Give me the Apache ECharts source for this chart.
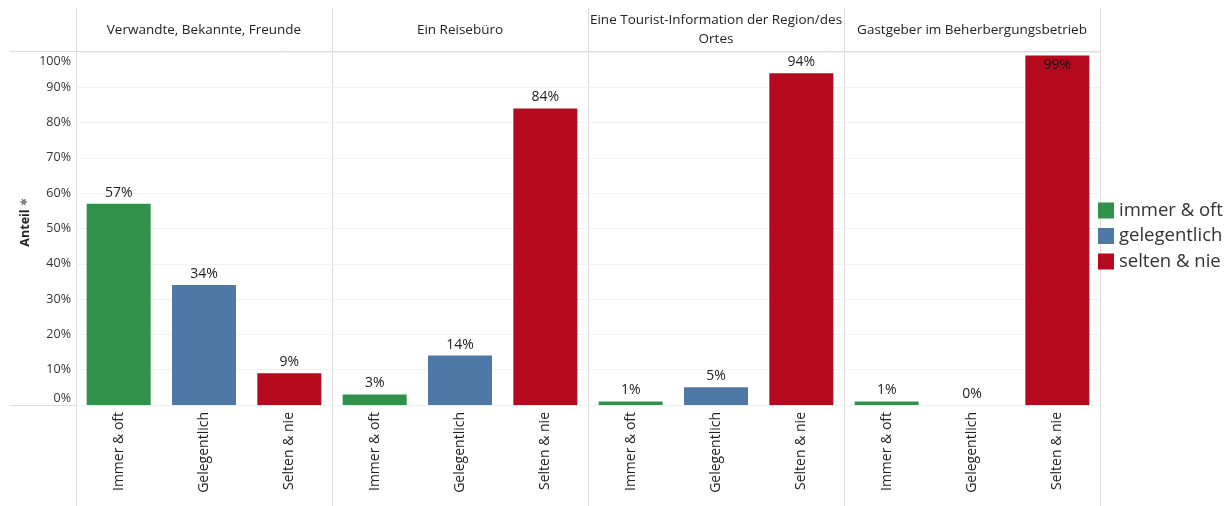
<!DOCTYPE html>
<html><head><meta charset="utf-8">
<script src="https://cdn.jsdelivr.net/npm/echarts@6/dist/echarts.min.js"></script>
<style>html,body{margin:0;padding:0;background:#fff}#c{width:1225px;height:506px}</style>
</head><body><div id="c"></div>
<script>
const panels = ['Verwandte, Bekannte, Freunde', 'Ein Reisebüro', 'Eine Tourist-Information der Region/des\nOrtes', 'Gastgeber im Beherbergungsbetrieb'];
const categories = ['Immer & oft', 'Gelegentlich', 'Selten & nie'];
const seriesNames = ['immer & oft', 'gelegentlich', 'selten & nie'];
const valuesVerwandte = [57, 34, 9];
const valuesReisebuero = [3, 14, 84];
const valuesTouristInfo = [1, 5, 94];
const valuesGastgeber = [1, 0, 99];
const yTicks = [0, 10, 20, 30, 40, 50, 60, 70, 80, 90, 100];
const colors = ['#30914a', '#4e79a7', '#b50a1e'];
const panelValues = [valuesVerwandte, valuesReisebuero, valuesTouristInfo, valuesGastgeber];

const FONT = 'Open Sans';
const X0 = 76, PW = 256, TOP = 52, H = 353;
const grids = [], xAxes = [], yAxes = [], series = [], titles = [];
panelValues.forEach((vals, p) => {
  grids.push({left: X0 + p*PW, width: PW, top: TOP, height: H});
  xAxes.push({type: 'category', gridIndex: p, data: categories,
    axisLine: {show: false}, axisTick: {show: false},
    axisLabel: {rotate: 90, fontFamily: FONT, fontSize: 14, color: '#222', margin: 7}});
  yAxes.push({type: 'value', gridIndex: p, min: yTicks[0], max: yTicks[yTicks.length-1], interval: 10,
    axisLine: {show: false}, axisTick: {show: false},
    splitLine: {lineStyle: {color: '#f2f2f2', width: 1}},
    axisLabel: p === 0 ? {show: true, fontFamily: FONT, fontSize: 12.5, color: '#333', margin: 5,
      formatter: v => v === 0 ? '{b|0%}' : (v === 100 ? '{t|100%}' : v + '%'),
      rich: {b: {fontFamily: FONT, fontSize: 12.5, color: '#333', padding: [0,0,14,0]},
             t: {fontFamily: FONT, fontSize: 12.5, color: '#333', padding: [18,0,0,0]}}} : {show: false}});
  seriesNames.forEach((nm, k) => {
    series.push({type: 'bar', name: nm, xAxisIndex: p, yAxisIndex: p,
      barGap: '-100%', barCategoryGap: '25%',
      itemStyle: {color: colors[k]},
      label: {show: true, position: 'top', distance: 4, fontFamily: FONT, fontSize: 14, color: '#222', formatter: '{c}%'},
      data: categories.map((c, j) => j === k ? (vals[j] > 97 ? {value: vals[j], label: {position: 'insideTop', distance: 2, color: '#111'}} : vals[j]) : '-')
    });
  });
  const twoLine = panels[p].indexOf('\n') >= 0;
  titles.push({text: panels[p], left: X0 + p*PW + PW/2, top: twoLine ? 11 : 21, padding: 0, textAlign: 'center',
    textStyle: {fontFamily: FONT, fontSize: 13.5, fontWeight: 'normal', color: '#222', lineHeight: 19}});
});

const graphics = [];
for (let i = 0; i <= 4; i++) {
  graphics.push({type: 'line', shape: {x1: X0 + i*PW + 0.5, y1: 8, x2: X0 + i*PW + 0.5, y2: 506}, style: {stroke: '#dcdcdc', lineWidth: 1}, z: 0});
}
graphics.push({type: 'line', shape: {x1: 10, y1: TOP - 0.5, x2: X0 + 4*PW, y2: TOP - 0.5}, style: {stroke: '#dcdcdc', lineWidth: 1}});
graphics.push({type: 'line', shape: {x1: 10, y1: TOP + H + 0.5, x2: X0 + 4*PW, y2: TOP + H + 0.5}, style: {stroke: '#dcdcdc', lineWidth: 1}});
graphics.push({type: 'text', x: 25, y: 228, rotation: Math.PI/2, style: {text: 'Anteil', fontFamily: FONT, fontSize: 12.5, fontWeight: 'bold', fill: '#222', align: 'center', verticalAlign: 'middle'}});
graphics.push({type: 'text', x: 25, y: 202, rotation: Math.PI/2, style: {text: '✱', fontFamily: 'DejaVu Sans', fontSize: 9, fill: '#777', align: 'center', verticalAlign: 'middle'}});

const chart = echarts.init(document.getElementById('c'), null, {renderer: 'canvas'});
chart.setOption({
  animation: false,
  backgroundColor: '#fff',
  title: titles,
  grid: grids, xAxis: xAxes, yAxis: yAxes, series: series,
  legend: {data: seriesNames, orient: 'vertical', left: 1093, top: 196, padding: [5,0,5,5], icon: 'rect', itemWidth: 16, itemHeight: 16, itemGap: 6.5,
    textStyle: {fontFamily: FONT, fontSize: 18.5, color: '#333', lineHeight: 16}},
  graphic: graphics
});
</script></body></html>
